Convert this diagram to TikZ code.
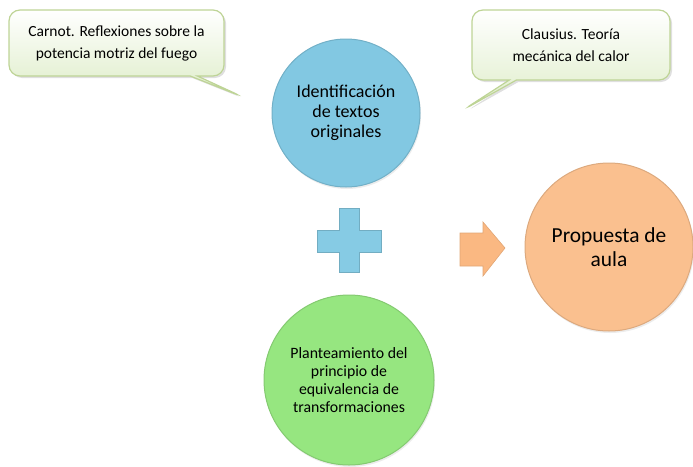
\documentclass[tikz,border=0pt]{standalone}
\usepackage{fontspec}
\setmainfont{Carlito}
\usetikzlibrary{shapes.callouts,shadows}

\definecolor{bubbleline}{RGB}{190,212,150}
\definecolor{bubblefill}{RGB}{222,237,200}
\definecolor{ballblue}{RGB}{130,200,226}
\definecolor{ballgreen}{RGB}{150,230,128}
\definecolor{ballorange}{RGB}{250,192,143}
\definecolor{plusblue}{RGB}{134,203,228}
\definecolor{arroworange}{RGB}{250,184,130}

\begin{document}
\begin{tikzpicture}[x=1pt,y=-1pt]
      \tikzstyle{every node}=[align=center,text=black]
      \tikzstyle{bubble}=[rectangle callout,rounded corners=11pt,draw=bubbleline,line width=1.2pt,top color=white,bottom color=bubblefill,
        drop shadow={opacity=0.25,shadow xshift=2pt,shadow yshift=-2pt},font=\fontsize{15.5}{22}\selectfont]
      \tikzstyle{ball}=[circle,line width=1pt,drop shadow={opacity=0.15,shadow xshift=1pt,shadow yshift=-2pt}]

      \useasboundingbox (0,0) rectangle (693,466);

      \node[bubble,minimum width=215pt,minimum height=66pt,callout absolute pointer={(243,97)}] (carnot) at (116.5,43) {Carnot. Reflexiones sobre la\\potencia motriz del fuego};
      \node[bubble,minimum width=198pt,minimum height=70pt,callout absolute pointer={(463,110)}] (clausius) at (571,45) {Clausius. Teoría\\mecánica del calor};

      \node[ball,fill=ballblue,draw=ballblue!88!black,minimum size=148pt,font=\fontsize{18}{20}\selectfont] (textos) at (346,113) {Identificación\\de textos\\originales};
      \node[ball,fill=ballgreen,draw=ballgreen!88!black,minimum size=170pt,font=\fontsize{15.8}{18}\selectfont] (principio) at (349,380) {Planteamiento del\\principio de\\equivalencia de\\transformaciones};
      \node[ball,fill=ballorange,draw=ballorange!88!black,minimum size=168pt,font=\fontsize{21.4}{24}\selectfont] (aula) at (609,247) {Propuesta de\\aula};

      % plus sign
      \draw[fill=plusblue,draw=plusblue!85!black,line width=0.6pt]
        (339,208) -- (359,208) -- (359,230) -- (381,230) -- (381,252) -- (359,252) -- (359,272)
        -- (339,272) -- (339,252) -- (317,252) -- (317,230) -- (339,230) -- cycle;

      % arrow
      \draw[fill=arroworange,draw=arroworange!90!black,line width=0.6pt]
        (460,233) -- (483,233) -- (483,222) -- (505,248) -- (483,276) -- (483,266) -- (460,266) -- cycle;

    \end{tikzpicture}
\end{document}
